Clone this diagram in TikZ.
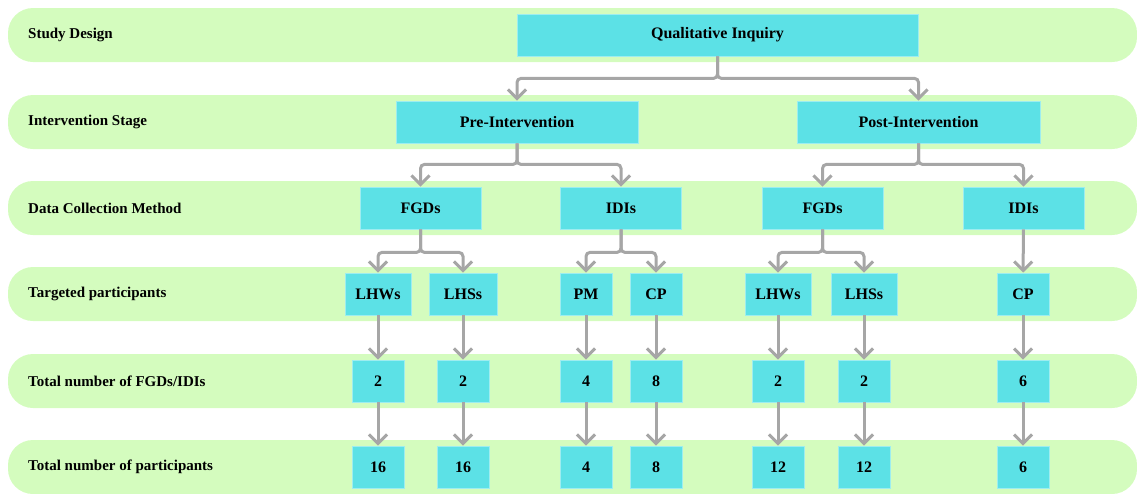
\documentclass[tikz,border=0pt]{standalone}
\usepackage{fontspec}
\setmainfont{Liberation Serif}
\usetikzlibrary{arrows.meta}

\definecolor{bandgreen}{RGB}{212,252,190}
\definecolor{boxcyan}{RGB}{92,225,230}
\definecolor{linegray}{RGB}{166,166,166}

\tikzset{
  band/.style={fill=bandgreen, rounded corners=25pt},
  rowlab/.style={anchor=west, inner sep=0pt, font=\fontsize{15}{18}\selectfont\bfseries},
  box/.style={fill=boxcyan, draw=boxcyan!60!white, line width=0.8pt, minimum height=42pt,
    inner sep=0pt, font=\fontsize{16}{19}\selectfont\bfseries},
  conn/.style={draw=linegray, line width=3pt, rounded corners=4pt,
    -{Straight Barb[length=9pt,width=18pt]}},
}

\begin{document}
\begin{tikzpicture}[x=1pt,y=-1pt]
    \useasboundingbox (0,0) rectangle (1137,493);

    % row bands and their labels
    \foreach \y/\t [count=\i] in {35/Study Design, 122/Intervention Stage,
        208/Data Collection Method, 294/Targeted participants,
        381/{Total number of FGDs/IDIs}, 467/Total number of participants} {
      \fill[band] (8,\y-27) rectangle (1137,\y+27);
      \node[rowlab] (lab\i) at (28,\y) {\t};
    }

    \node[box, minimum width=401pt] (qi) at (717.5,35) {Qualitative Inquiry};

    \node[box, minimum width=242pt] (pre) at (517,122) {Pre-Intervention};
    \node[box, minimum width=243pt] (post) at (918.5,122) {Post-Intervention};

    \node[box, minimum width=121pt] (fgd1) at (420.5,208) {FGDs};
    \node[box, minimum width=121pt] (idi1) at (621,208) {IDIs};
    \node[box, minimum width=121pt] (fgd2) at (822.5,208) {FGDs};
    \node[box, minimum width=121pt] (idi2) at (1023.5,208) {IDIs};

    \foreach \x/\w/\t [count=\i] in {378/66/LHWs, 463/68/LHSs, 586/52/PM, 656/52/CP,
        778/66/LHWs, 864/66/LHSs, 1023/52/CP}
      \node[box, minimum width=\w pt] (p\i) at (\x,294) {\t};

    \foreach \s in {pre,post}
      \draw[conn] (qi.south) -- ++(0,22) -| (\s);

    \foreach \s in {fgd1,idi1}
      \draw[conn] (pre.south) -- ++(0,21) -| (\s);
    \foreach \s in {fgd2,idi2}
      \draw[conn] (post.south) -- ++(0,21) -| (\s);

    \foreach \s in {p1,p2}
      \draw[conn] (fgd1.south) -- ++(0,23) -| (\s);
    \foreach \s in {p3,p4}
      \draw[conn] (idi1.south) -- ++(0,23) -| (\s);
    \foreach \s in {p5,p6}
      \draw[conn] (fgd2.south) -- ++(0,23) -| (\s);
    \draw[conn] (idi2) -- (p7);

    \foreach \x/\a/\b [count=\i] in {378/2/16, 463/2/16, 586/4/4, 656/8/8,
        778/2/12, 864/2/12, 1023/6/6} {
      \node[box, minimum width=52pt] (n\i) at (\x,381) {\a};
      \node[box, minimum width=52pt] (t\i) at (\x,467) {\b};
      \draw[conn] (p\i) -- (n\i);
      \draw[conn] (n\i) -- (t\i);
    }
\end{tikzpicture}
\end{document}
